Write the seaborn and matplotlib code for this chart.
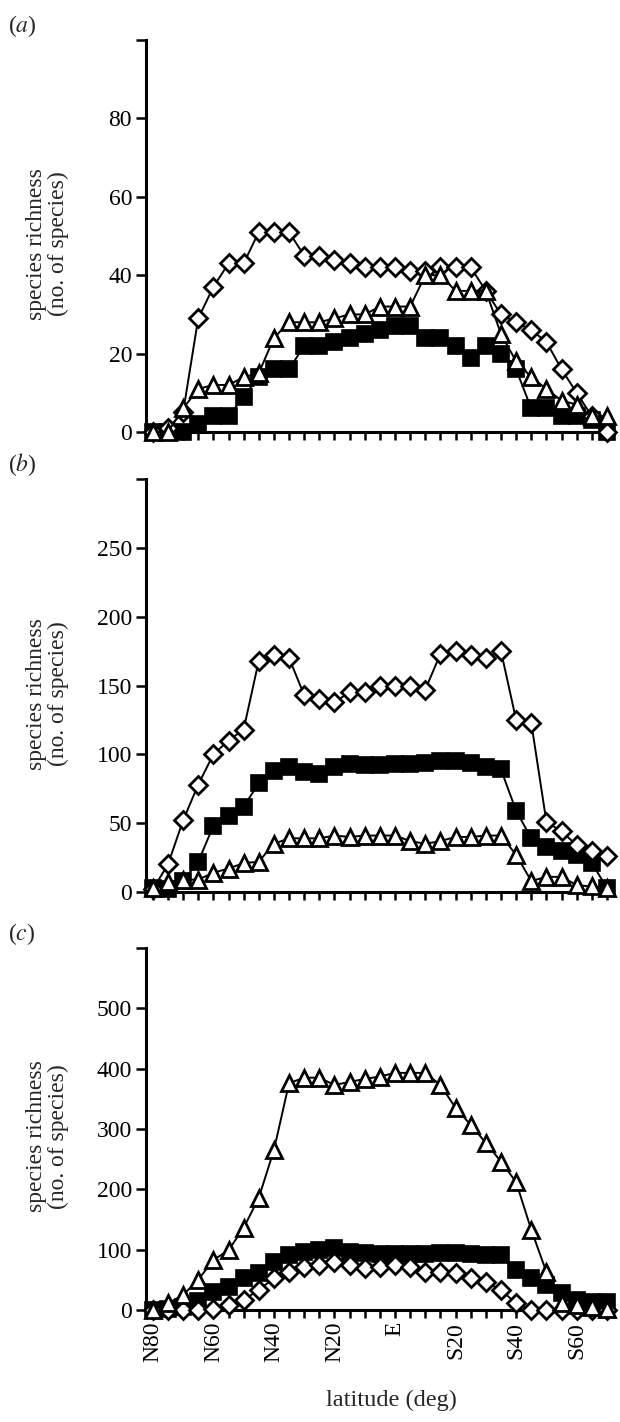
import numpy as np
import matplotlib
matplotlib.use('Agg')
import matplotlib.pyplot as plt
import seaborn as sns

# latitude bins, 5 deg steps, north to south
lats = ['N80', 'N75', 'N70', 'N65', 'N60', 'N55', 'N50', 'N45', 'N40', 'N35', 'N30',
        'N25', 'N20', 'N15', 'N10', 'N5', 'E', 'S5', 'S10', 'S15', 'S20', 'S25',
        'S30', 'S35', 'S40', 'S45', 'S50', 'S55', 'S60', 'S65', 'S70']
tick_names = ['N80', 'N60', 'N40', 'N20', 'E', 'S20', 'S40', 'S60']

# panel (a)
diam_a = [0, 1, 5, 29, 37, 43, 43, 51, 51, 51, 45, 45, 44, 43, 42, 42, 42, 41, 41, 42,
          42, 42, 36, 30, 28, 26, 23, 16, 10, 4, 0]
sq_a = [0, 0, 0, 2, 4, 4, 9, 14, 16, 16, 22, 22, 23, 24, 25, 26, 27, 27, 24, 24,
        22, 19, 22, 20, 16, 6, 6, 4, 4, 3, 0]
tri_a = [0, 0, 6, 11, 12, 12, 14, 15, 24, 28, 28, 28, 29, 30, 30, 32, 32, 32, 40, 40,
         36, 36, 36, 25, 18, 14, 11, 8, 7, 4, 4]

# panel (b)
diam_b = [2, 20, 52, 78, 100, 110, 118, 168, 172, 170, 143, 140, 138, 145, 145, 150,
          150, 150, 147, 173, 175, 172, 170, 175, 125, 123, 51, 44, 34, 30, 26]
sq_b = [3, 2, 8, 22, 48, 55, 62, 79, 88, 91, 87, 86, 91, 93, 92, 92, 93, 93, 94, 95,
        95, 94, 91, 89, 59, 39, 33, 30, 27, 21, 3]
tri_b = [3, 7, 9, 9, 14, 17, 21, 22, 35, 39, 39, 39, 41, 40, 41, 41, 41, 37, 35, 37,
         40, 40, 41, 41, 27, 8, 11, 11, 5, 4, 3]

# panel (c)
diam_c = [0, 0, 0, 0, 2, 8, 17, 33, 53, 63, 72, 75, 80, 75, 70, 72, 75, 72, 63, 63,
          61, 53, 47, 33, 11, 0, 0, 0, 0, 0, 0]
sq_c = [0, 2, 5, 15, 30, 38, 53, 61, 80, 91, 96, 99, 102, 96, 94, 93, 92, 92, 93, 95,
        95, 93, 91, 91, 66, 53, 41, 28, 17, 14, 14]
tri_c = [0, 11, 25, 50, 83, 99, 136, 186, 265, 376, 385, 385, 373, 378, 383, 387, 393,
         393, 393, 373, 335, 307, 277, 246, 212, 133, 63, 11, 8, 5, 2]

panels = [
    ('a', diam_a, sq_a, tri_a, 100, 20),
    ('b', diam_b, sq_b, tri_b, 300, 50),
    ('c', diam_c, sq_c, tri_c, 600, 100),
]

sns.set_theme(style='white')
plt.rcParams['font.family'] = ['Liberation Serif', 'DejaVu Serif']
plt.rcParams['mathtext.fontset'] = 'stix'

W, H = 620, 1422
fig = plt.figure(figsize=(W / 100, H / 100), dpi=100)

# pixel boxes (left, top, right, bottom) of each plot area
boxes = [(146, 40, 613, 432), (146, 479, 613, 892), (146, 948, 613, 1310)]

x = np.arange(len(lats))
FS = 17

for (tag, diam, sq, tri, ymax, ystep), (l, t, r, b) in zip(panels, boxes):
    ax = fig.add_axes([l / W, 1 - b / H, (r - l) / W, (b - t) / H])

    sns.lineplot(x=x, y=sq, ax=ax, color='black', lw=1.4, marker='s', ms=11,
                 mfc='black', mec='black', mew=1.2, errorbar=None, clip_on=False, zorder=3)
    sns.lineplot(x=x, y=diam, ax=ax, color='black', lw=1.4, marker='D', ms=9.5,
                 mfc='white', mec='black', mew=2.0, errorbar=None, clip_on=False, zorder=4)
    sns.lineplot(x=x, y=tri, ax=ax, color='black', lw=1.4, marker='^', ms=12,
                 mfc='white', mec='black', mew=2.0, errorbar=None, clip_on=False, zorder=5)

    ax.set_xlim(-0.45, 30.4)
    ax.set_ylim(0, ymax)
    yt = np.arange(0, ymax + 1, ystep)
    ax.set_yticks(yt)
    ax.set_yticklabels([str(v) for v in yt[:-1]] + [''], fontsize=FS)
    ax.set_xticks(x)
    if tag == 'c':
        ax.set_xticklabels([n if n in tick_names else '' for n in lats],
                           rotation=90, fontsize=FS)
    else:
        ax.set_xticklabels([])

    for side in ['top', 'right']:
        ax.spines[side].set_visible(False)
    for side in ['left', 'bottom']:
        ax.spines[side].set_linewidth(2.2)
        ax.spines[side].set_color('black')
    ax.tick_params(axis='y', direction='out', length=7, width=1.8, color='black',
                   left=True, pad=3, labelcolor='black')
    ax.tick_params(axis='x', direction='out', length=5.5, width=1.8, color='black',
                   bottom=True, pad=3, labelcolor='black')
    ax.grid(False)
    ax.set_xlabel('')
    ax.set_ylabel('species richness\n(no. of species)', fontsize=FS, linespacing=1.05)
    ax.yaxis.set_label_coords(-0.165, 0.48)

    fig.text(8 / W, 1 - (t - 14) / H, '(' + r'$\mathit{' + tag + '}$' + ')',
             fontsize=FS, va='center', ha='left')

fig.text(391 / W, 1 - 1400 / H, 'latitude (deg)', fontsize=FS + 0.5, ha='center', va='center')

fig.savefig('out.png', dpi=100, facecolor='white')
